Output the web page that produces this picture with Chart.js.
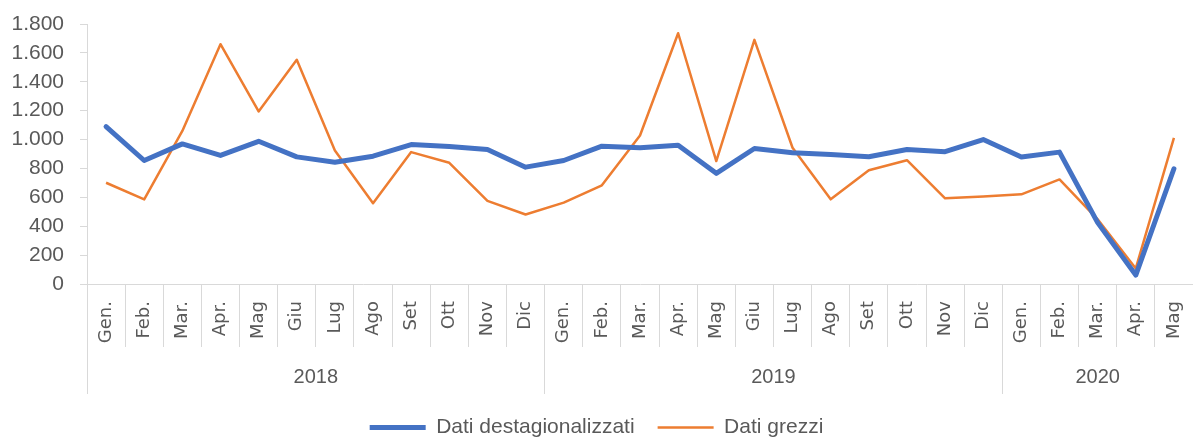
<!DOCTYPE html>
<html>
<head>
<meta charset="utf-8">
<script src="https://cdn.jsdelivr.net/npm/chart.js@4/dist/chart.umd.min.js"></script>
<style>
  html, body { margin: 0; padding: 0; background: #fff; }
  #wrap { width: 1193px; height: 441px; position: relative; }
</style>
</head>
<body>
<div id="wrap"><canvas id="chart"></canvas></div>
<script>
// month labels (two years + five months of 2020)
const months = [
  'Gen.', 'Feb.', 'Mar.', 'Apr.', 'Mag', 'Giu', 'Lug', 'Ago', 'Set', 'Ott', 'Nov', 'Dic',
  'Gen.', 'Feb.', 'Mar.', 'Apr.', 'Mag', 'Giu', 'Lug', 'Ago', 'Set', 'Ott', 'Nov', 'Dic',
  'Gen.', 'Feb.', 'Mar.', 'Apr.', 'Mag'
];
const years = ['2018', '2019', '2020'];
const yearCounts = [12, 12, 5];

const destagionalizzati = [
  1090, 855, 970, 890, 988, 880, 843, 885, 965, 952, 931, 809,
  855, 954, 943, 961, 766, 938, 909, 897, 881, 931, 916, 1000,
  879, 913, 425, 62, 798
];
const grezzi = [
  701, 586, 1060, 1660, 1195, 1552, 924, 559, 913, 839, 575, 481,
  563, 683, 1028, 1736, 851, 1690, 943, 586, 788, 857, 593, 605,
  621, 724, 448, 108, 1012
];

const yTicks = [0, 200, 400, 600, 800, 1000, 1200, 1400, 1600, 1800];

const grey = '#d9d9d9';
const textGrey = '#595959';

// year group boundaries and centres on a -0.5 .. n-0.5 linear axis
const yearBounds = [-0.5];
const yearMids = {};
let start = -0.5;
yearCounts.forEach((c, i) => {
  yearMids[start + c / 2] = years[i];
  start += c;
  yearBounds.push(start);
});

const fmt = (v) => String(v).replace(/\B(?=(\d{3})+(?!\d))/g, '.');

new Chart(document.getElementById('chart'), {
  type: 'line',
  data: {
    labels: months,
    datasets: [
      {
        label: 'Dati destagionalizzati',
        data: destagionalizzati,
        borderColor: '#4472C4',
        backgroundColor: '#4472C4',
        borderWidth: 5,
        borderCapStyle: 'round',
        borderJoinStyle: 'round',
        pointRadius: 0,
        tension: 0
      },
      {
        label: 'Dati grezzi',
        data: grezzi,
        borderColor: '#ED7D31',
        backgroundColor: '#ED7D31',
        borderWidth: 2.5,
        borderJoinStyle: 'round',
        pointRadius: 0,
        tension: 0
      }
    ]
  },
  options: {
    responsive: true,
    maintainAspectRatio: false,
    animation: false,
    layout: { padding: { top: 24, right: 0, left: 0, bottom: -7 } },
    plugins: {
      tooltip: { enabled: false },
      legend: {
        position: 'bottom',
        labels: {
          usePointStyle: true,
          pointStyle: 'line',
          pointStyleWidth: 56,
          padding: 23,
          color: textGrey,
          font: { family: '"Liberation Sans", Arial, sans-serif', size: 21 }
        }
      }
    },
    scales: {
      y: {
        min: 0,
        max: 1800,
        afterBuildTicks: (scale) => { scale.ticks = yTicks.map(v => ({ value: v })); },
        afterFit: (scale) => { scale.width = 87; scale.paddingTop = 0; },
        grid: { drawOnChartArea: false, color: grey, tickLength: 7 },
        border: { color: grey },
        ticks: {
          padding: 16,
          color: textGrey,
          font: { family: '"Liberation Sans", Arial, sans-serif', size: 21 },
          callback: (v) => fmt(v)
        }
      },
      x: {
        type: 'category',
        offset: true,
        weight: 0,
        afterFit: (scale) => { scale.height = 63; },
        grid: { drawOnChartArea: false, offset: true, color: grey, tickLength: 63 },
        border: { color: grey },
        ticks: {
          autoSkip: false,
          minRotation: 90,
          maxRotation: 90,
          padding: -46,
          color: textGrey,
          font: { family: '"DejaVu Sans", sans-serif', size: 18 }
        }
      },
      x2: {
        type: 'linear',
        position: 'bottom',
        weight: 1,
        min: -0.5,
        max: months.length - 0.5,
        afterBuildTicks: (scale) => {
          const vals = [...yearBounds, ...Object.keys(yearMids).map(Number)].sort((a, b) => a - b);
          scale.ticks = vals.map(v => ({ value: v }));
        },
        afterFit: (scale) => { scale.height = 47; },
        grid: {
          drawOnChartArea: false,
          tickLength: 47,
          color: (ctx) => (ctx.tick && yearMids[ctx.tick.value] !== undefined ? 'rgba(0,0,0,0)' : grey)
        },
        border: { display: false },
        ticks: {
          autoSkip: false,
          maxRotation: 0,
          padding: -29,
          color: textGrey,
          font: { family: '"Liberation Sans", Arial, sans-serif', size: 20 },
          callback: (v) => yearMids[v] || ''
        }
      }
    }
  }
});
</script>
</body>
</html>
